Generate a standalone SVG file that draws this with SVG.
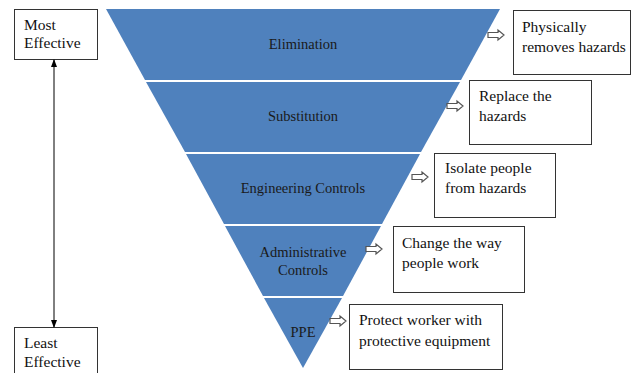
<svg xmlns="http://www.w3.org/2000/svg" width="635" height="373" viewBox="0 0 635 373">
<style>
.band{fill:#4F81BD;}
.lbl{font-family:'Liberation Serif','Times New Roman','DejaVu Serif',serif;font-size:14.5px;fill:#1a1a1a;text-anchor:middle;}
.box{fill:#fff;stroke:#333;stroke-width:1;}
.bt{font-family:'Liberation Serif','Times New Roman','DejaVu Serif',serif;font-size:15.5px;fill:#111;}
.harrow{fill:#fff;stroke:#555;stroke-width:1.2;}
</style>
<defs>
<path id="ha" d="M0,-2.5 H10 V-5 L16,0 L10,5 V2.5 H0 Z"/>
<marker id="ah" markerWidth="8" markerHeight="8" refX="7" refY="4" orient="auto-start-reverse" markerUnits="userSpaceOnUse">
<path d="M0,1 L8,4 L0,7 Z" fill="#000"/>
</marker>
</defs>
<rect width="635" height="373" fill="#fff"/>

<g id="elimination">
<polygon class="band" points="106,9 500,9 461,80 145,80"/>
<text class="lbl" x="303" y="49">Elimination</text>
</g>
<g id="substitution">
<polygon class="band" points="146,82 460,82 421,152 185,152"/>
<text class="lbl" x="303" y="121">Substitution</text>
</g>
<g id="engineering">
<polygon class="band" points="186,154 420,154 382,224 224,224"/>
<text class="lbl" x="303" y="193">Engineering Controls</text>
</g>
<g id="administrative">
<polygon class="band" points="225,226 381,226 343,296 263,296"/>
<text class="lbl" x="303" y="257">Administrative</text>
<text class="lbl" x="303" y="275">Controls</text>
</g>
<g id="ppe">
<polygon class="band" points="264,298 342,298 303,368"/>
<text class="lbl" x="303" y="337">PPE</text>
</g>

<g id="box-eliminate">
<rect class="box" x="513.5" y="10.5" width="117" height="64"/>
<text class="bt" x="522" y="32">Physically</text>
<text class="bt" x="522" y="52">removes hazards</text>
</g>
<g id="box-substitute">
<rect class="box" x="469.5" y="80.5" width="122" height="64"/>
<text class="bt" x="479" y="101">Replace the</text>
<text class="bt" x="479" y="121">hazards</text>
</g>
<g id="box-isolate">
<rect class="box" x="434.5" y="153.5" width="121" height="64"/>
<text class="bt" x="445" y="173">Isolate people</text>
<text class="bt" x="445" y="193">from hazards</text>
</g>
<g id="box-change">
<rect class="box" x="393.5" y="226.5" width="131" height="66"/>
<text class="bt" x="402" y="248">Change the way</text>
<text class="bt" x="402" y="268">people work</text>
</g>
<g id="box-protect">
<rect class="box" x="349.5" y="304.5" width="153" height="65"/>
<text class="bt" x="359" y="325">Protect worker with</text>
<text class="bt" x="359" y="346">protective equipment</text>
</g>

<g id="most-effective">
<rect class="box" x="14.5" y="9.5" width="83" height="50"/>
<text class="bt" x="24" y="30">Most</text>
<text class="bt" x="24" y="48">Effective</text>
</g>
<g id="least-effective">
<rect class="box" x="14.5" y="327.5" width="83" height="50"/>
<text class="bt" x="24" y="348">Least</text>
<text class="bt" x="24" y="367">Effective</text>
</g>

<g id="connectors">
<line x1="54" y1="60" x2="54" y2="327" stroke="#000" stroke-width="1" marker-start="url(#ah)" marker-end="url(#ah)"/>
<use href="#ha" class="harrow" x="488" y="35"/>
<use href="#ha" class="harrow" x="447" y="106"/>
<use href="#ha" class="harrow" x="412" y="177"/>
<use href="#ha" class="harrow" x="366" y="249"/>
<use href="#ha" class="harrow" x="330" y="321"/>
</g>
</svg>
